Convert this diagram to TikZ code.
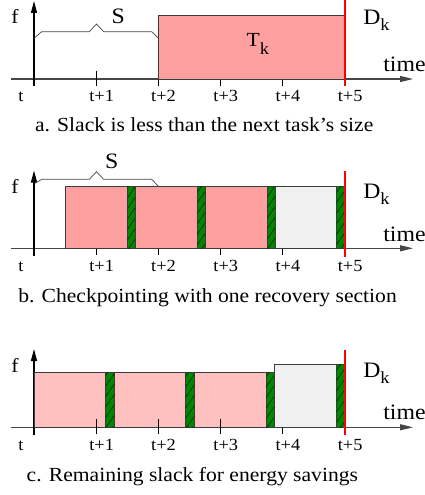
\documentclass[tikz,border=0pt]{standalone}
\usepackage{fontspec}
\setmainfont{Liberation Serif}[FakeStretch=1.08]
\usetikzlibrary{arrows.meta,patterns.meta}
\definecolor{taskpink}{RGB}{255,160,160}
\definecolor{lightpink}{RGB}{255,192,192}
\definecolor{slackgray}{RGB}{240,240,240}
\definecolor{ckgreen}{RGB}{0,135,0}
\definecolor{hatchgreen}{RGB}{0,50,0}
\definecolor{edgegray}{RGB}{60,60,60}
\definecolor{axisgray}{RGB}{70,70,70}
\definecolor{deadred}{RGB}{255,0,0}
\tikzset{
  fsz/.style={font=\fontsize{#1}{#1}\selectfont, inner sep=0pt, outer sep=0pt},
  vaxis/.style={black, line width=1.2pt, -{Triangle[length=12pt,width=6pt]}},
  haxis/.style={axisgray, line width=1.2pt, -{Triangle[length=13pt,width=6pt]}},
  tickmark/.style={black, line width=0.9pt},
  taskbox/.style={draw=edgegray, line width=0.8pt, fill=taskpink},
  lightbox/.style={draw=edgegray, line width=0.8pt, fill=lightpink},
  slackbox/.style={draw=edgegray, line width=0.8pt, fill=slackgray},
  ckbox/.style={draw=edgegray, line width=0.8pt, fill=ckgreen,
    postaction={pattern={Lines[angle=55,distance=6pt,line width=0.7pt]}, pattern color=hatchgreen}},
  deadline/.style={deadred, line width=1.6pt},
  bracel/.style={axisgray, line width=0.7pt},
  ticklabel/.style={fsz=17, anchor=base west},
  caption/.style={fsz=20, anchor=base west},
}
\newcommand{\subk}[1]{\raisebox{-#1pt}{\fontsize{17}{17}\selectfont k}}
\begin{document}
\begin{tikzpicture}[x=1pt,y=-1pt]
\useasboundingbox (0,0) rectangle (425,495);

% ================= panel a =================
\draw[haxis] (11,79) -- (413,79);
\draw[vaxis] (34,86) -- (34,1);
\foreach \x in {96.2,158.4,220.6,282.8} \draw[tickmark] (\x,71) -- (\x,86);
\draw[taskbox] (158.4,15.7) rectangle (345,79);
\draw[deadline] (345,0) -- (345,86);
\draw[bracel] (34,38.3) -- (41.7,31.7) -- (89.3,31.7) -- (96.5,24) -- (103.7,31.7) -- (151.7,31.7) -- (158.4,38.3);
\node[fsz=22, anchor=base west] (Sa) at (111.7,24) {S};
\node[fsz=20, anchor=base west] (Tka) at (246.7,46.7) {T\subk{8}};
\node[fsz=22, anchor=base west] (Dka) at (363.3,25) {D\subk{6}};
\node[fsz=22, anchor=base west] (timea) at (383.3,71.7) {time};
\node[fsz=20, anchor=base west] (fa) at (11.5,23.3) {f};
\node[ticklabel] (a0) at (18.3,101.7) {t};
\node[ticklabel] (a1) at (89.3,101.7) {t+1};
\node[ticklabel] (a2) at (151.2,101.7) {t+2};
\node[ticklabel] (a3) at (213.4,101.7) {t+3};
\node[ticklabel] (a4) at (275.6,101.7) {t+4};
\node[ticklabel] (a5) at (337.8,101.7) {t+5};
\node[caption] (capa) at (35,131.7) {a. Slack is less than the next task’s size};

% ================= panel b =================
\draw[haxis] (11,248.3) -- (413,248.3);
\draw[vaxis] (34,256) -- (34,170.5);
\foreach \x in {96.2,158.4,220.6,282.8} \draw[tickmark] (\x,240.3) -- (\x,255.3);
\draw[taskbox] (65,186.7) rectangle (127.3,248.3);
\draw[ckbox] (127.3,186.7) rectangle (135.7,248.3);
\draw[taskbox] (135.7,186.7) rectangle (197.3,248.3);
\draw[ckbox] (197.3,186.7) rectangle (205,248.3);
\draw[taskbox] (205,186.7) rectangle (267.3,248.3);
\draw[ckbox] (267.3,186.7) rectangle (275,248.3);
\draw[slackbox] (275,186.7) rectangle (336.7,248.3);
\draw[ckbox] (336.7,186.7) rectangle (344,248.3);
\draw[deadline] (345,171) -- (345,256.7);
\draw[bracel] (35,183.3) -- (41.7,179.3) -- (89.3,179.3) -- (96.5,171.7) -- (103.7,179.3) -- (151.7,179.3) -- (158.3,186.2);
\node[fsz=22, anchor=base west] (Sb) at (105,168.3) {S};
\node[fsz=22, anchor=base west] (Dkb) at (363.3,198) {D\subk{6}};
\node[fsz=22, anchor=base west] (timeb) at (383.3,241) {time};
\node[fsz=20, anchor=base west] (fb) at (11.5,193.3) {f};
\node[ticklabel] (b0) at (18.3,271) {t};
\node[ticklabel] (b1) at (89.3,271) {t+1};
\node[ticklabel] (b2) at (151.2,271) {t+2};
\node[ticklabel] (b3) at (213.4,271) {t+3};
\node[ticklabel] (b4) at (275.6,271) {t+4};
\node[ticklabel] (b5) at (337.8,271) {t+5};
\node[caption] (capb) at (18.3,302.3) {b. Checkpointing with one recovery section};

% ================= panel c =================
\draw[haxis] (11,427.3) -- (413,427.3);
\draw[vaxis] (34,435) -- (34,349);
\draw[lightbox] (34,372.7) rectangle (105.7,427.3);
\draw[lightbox] (114.3,372.7) rectangle (185.7,427.3);
\draw[lightbox] (194.3,372.7) rectangle (266,427.3);
\foreach \x in {96.2,158.4,220.6} \draw[tickmark] (\x,419.3) -- (\x,434.3);
\draw[tickmark] (282.8,427.3) -- (282.8,434.3);
\draw[ckbox] (105.7,372.7) rectangle (114.3,427.3);
\draw[ckbox] (185.7,372.7) rectangle (194.3,427.3);
\draw[ckbox] (266,372.7) rectangle (274.3,427.3);
\draw[slackbox] (274.3,364.3) rectangle (336.7,427.3);
\draw[ckbox] (336.7,364.3) rectangle (344,427.3);
\draw[deadline] (345,350) -- (345,435);
\node[fsz=22, anchor=base west] (Dkc) at (363.3,377) {D\subk{6}};
\node[fsz=22, anchor=base west] (timec) at (383.3,419.3) {time};
\node[fsz=20, anchor=base west] (fc) at (11.5,372.7) {f};
\node[ticklabel] (c0) at (18.3,450) {t};
\node[ticklabel] (c1) at (89.3,450) {t+1};
\node[ticklabel] (c2) at (151.2,450) {t+2};
\node[ticklabel] (c3) at (213.4,450) {t+3};
\node[ticklabel] (c4) at (275.6,450) {t+4};
\node[ticklabel] (c5) at (337.8,450) {t+5};
\node[caption] (capc) at (26.7,481.7) {c. Remaining slack for energy savings};
\end{tikzpicture}
\end{document}
